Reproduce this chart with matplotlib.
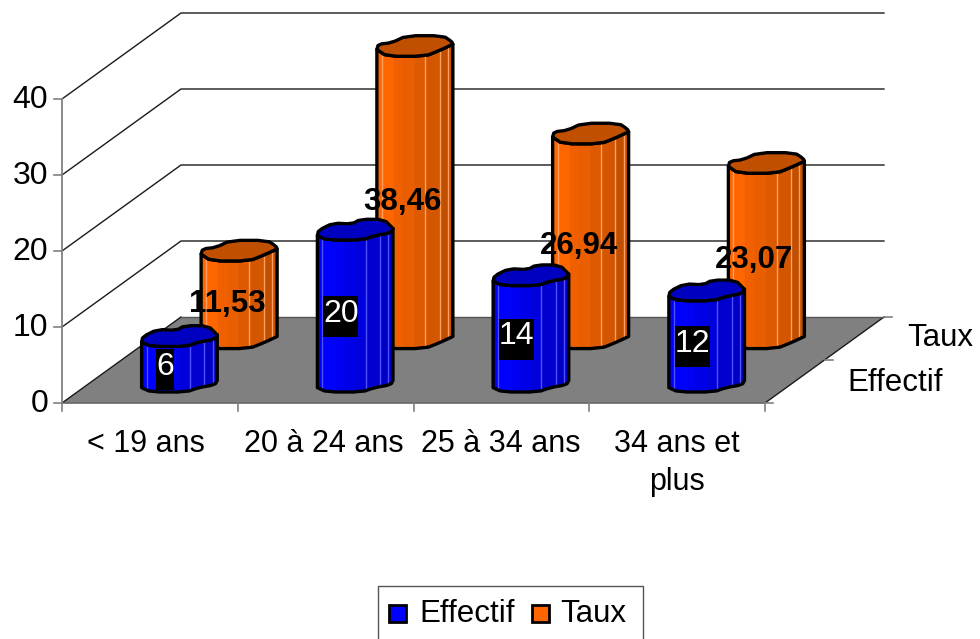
import matplotlib
matplotlib.use("Agg")
import matplotlib.pyplot as plt
from matplotlib.patches import Polygon, Rectangle

plt.rcParams['font.family'] = ['Liberation Sans', 'DejaVu Sans']

categories = ["< 19 ans", "20 à 24 ans", "25 à 34 ans", "34 ans et\nplus"]
effectif = [6, 20, 14, 12]
taux = [11.53, 38.46, 26.94, 23.07]
effectif_labels = ["6", "20", "14", "12"]
taux_labels = ["11,53", "38,46", "26,94", "23,07"]
y_ticks = [0, 10, 20, 30, 40]

# oblique projection of the 3D box, in pixels
X0, Y0 = 62, 403
CAT_W = 175.75
PX_PER_UNIT = 7.6
DX, DY = 119, -86
HALF_W, HALF_H = 38, 10.5


def project(cat, depth, value):
    """cat in category units, depth 0..1 front to back, value on the y scale"""
    return (X0 + cat * CAT_W + depth * DX,
            Y0 + depth * DY - value * PX_PER_UNIT)


# rough outline of the cylinder caps, back edge then front edge
blue_back = [(-1, .59), (-.97, .07), (-.58, -.62), (-.09, -.52), (.13, -.97), (.75, -.97), (.99, -.1)]
blue_front = [(.99, -.1), (.93, .31), (.49, .59), (.18, 1), (-.75, 1), (-1, .59)]
orange_back = [(-1, .3), (-.96, -.19), (-.61, -.33), (-.22, -1), (.74, -1), (.97, -.44), (1, -.19)]
orange_front = [(1, -.19), (.65, .4), (.26, .96), (-.74, .96), (-1, .3)]

blue_strips = ['#0000ff', '#0000f4', '#0000e8', '#0000dc', '#0000d0', '#0000c4']
orange_strips = ['#ff6600', '#f06000', '#e85e00', '#de5a00', '#d55600', '#c05000']
strip_edges = [-1, -.55, -.3, 0, .27, .65, 1]
pale_lines = [-.87, .27, .65, .87]


def soften(points):
    """one pass of corner cutting on an open run of points"""
    out = [points[0]]
    for (x0, y0), (x1, y1) in zip(points[:-1], points[1:]):
        out.append((.75 * x0 + .25 * x1, .75 * y0 + .25 * y1))
        out.append((.25 * x0 + .75 * x1, .25 * y0 + .75 * y1))
    out.append(points[-1])
    return out


def draw_cylinder(ax, cx, base_y, top_y, back, front, strips, top_color, pale, z):
    edge = soften(front)
    top_front = [(cx + a * HALF_W, top_y + b * HALF_H) for a, b in edge]
    bottom = [(cx + a * HALF_W, base_y + b * HALF_H) for a, b in reversed(edge)]
    body = Polygon(top_front + bottom, closed=True, fc='none', ec='none', zorder=z)
    ax.add_patch(body)
    low = base_y + HALF_H + 2
    up = top_y - HALF_H - 2
    for i, c in enumerate(strips):
        x0 = cx + strip_edges[i] * HALF_W
        x1 = cx + strip_edges[i + 1] * HALF_W
        r = Rectangle((x0, up), x1 - x0, low - up, fc=c, ec=c, lw=0.3, zorder=z)
        ax.add_patch(r)
        r.set_clip_path(body)
    for p in pale_lines:
        ln, = ax.plot([cx + p * HALF_W] * 2, [up, low], color=pale, lw=1, zorder=z)
        ln.set_clip_path(body)
    ax.add_patch(Polygon(top_front + bottom, closed=True, fc='none', ec='black',
                         lw=2.4, joinstyle='round', zorder=z + .1))
    outline = soften(back) + edge[1:-1]
    cap = [(cx + a * HALF_W, top_y + b * HALF_H) for a, b in outline]
    ax.add_patch(Polygon(cap, closed=True, fc=top_color, ec='black', lw=2.4,
                         joinstyle='round', zorder=z + .2))


fig = plt.figure(figsize=(9.8, 6.39), dpi=100)
ax = fig.add_axes([0, 0, 1, 1])
ax.set_xlim(0, 980)
ax.set_ylim(639, 0)
ax.axis('off')

# walls: gridlines run along the side wall then the back wall
for v in y_ticks[1:]:
    x1, y1 = project(0, 0, v)
    x2, y2 = project(0, 1, v)
    x3, y3 = project(4, 1, v)
    ax.plot([x1, x2, x3], [y1, y2, y3], color='#1a1a1a', lw=1, zorder=1)

# floor
floor = [project(0, 0, 0), project(4, 0, 0), project(4, 1, 0), project(0, 1, 0)]
ax.add_patch(Polygon(floor, closed=True, fc='#808080', ec='none', zorder=2))
ax.plot([floor[0][0], floor[3][0]], [floor[0][1], floor[3][1]], color='#1a1a1a', lw=1, zorder=2)
ax.plot([floor[1][0], floor[2][0]], [floor[1][1], floor[2][1]], color='#1a1a1a', lw=1, zorder=2)
ax.plot([floor[3][0], floor[2][0]], [floor[3][1], floor[2][1]], color='#555555', lw=1, zorder=2)
ax.plot([floor[0][0], floor[1][0]], [floor[0][1], floor[1][1]], color='#666666', lw=1.2, zorder=3)

# value axis
xa, ya = project(0, 0, y_ticks[-1])
ax.plot([xa, xa], [ya, Y0], color='#808080', lw=1.3, zorder=3)
for v in y_ticks:
    x, y = project(0, 0, v)
    ax.plot([x - 8, x], [y, y], color='#808080', lw=1.2, zorder=3)
    ax.text(48, y + .5, str(v), ha='right', va='center', fontsize=23, color='black')

# category axis
for i in range(len(categories) + 1):
    x, y = project(i, 0, 0)
    ax.plot([x, x], [y, y + 8], color='#808080', lw=1.2, zorder=3)
label_x = [146, 324, 501, 677]
for name, x in zip(categories, label_x):
    ax.text(x, 429, name, ha='center', va='top', fontsize=22, linespacing=1.35, color='black')

# depth axis
for d in (0, .5, 1):
    x, y = project(4, d, 0)
    ax.plot([x, x + 8], [y, y], color='#808080', lw=1.2, zorder=3)
ax.text(907, 338.5, "Taux", ha='left', va='center', fontsize=22.5, color='black')
ax.text(847, 383, "Effectif", ha='left', va='center', fontsize=22.5, color='black')

# cylinders, back row first, each one above the one before
for i, v in enumerate(taux):
    cx, base = project(i + .5, .75, 0)
    _, top = project(i + .5, .75, v)
    draw_cylinder(ax, cx, base, top, orange_back, orange_front, orange_strips, '#c05000', '#ffa060', 4)
for i, v in enumerate(effectif):
    cx, base = project(i + .5, .25, 0)
    _, top = project(i + .5, .25, v)
    draw_cylinder(ax, cx, base, top, blue_back, blue_front, blue_strips, '#0000c0', '#5050ff', 5)

# value labels
for i, v in enumerate(taux):
    cx, base = project(i + .5, .75, 0)
    _, top = project(i + .5, .75, v)
    ax.text(cx - 12, (base + top) / 2 + 9.5, taux_labels[i], ha='center', va='center',
            fontsize=22.5, fontweight='bold', color='black', zorder=7)
for i, v in enumerate(effectif):
    cx, base = project(i + .5, .25, 0)
    _, top = project(i + .5, .25, v)
    lx, ly = cx - 14.5, (base + top) / 2 + 11
    w = 17.5 * len(effectif_labels[i])
    ax.add_patch(Rectangle((lx - w / 2, ly - 20.5), w, 41, fc='black', ec='none', zorder=6))
    ax.text(lx, ly - 3, effectif_labels[i], ha='center', va='center', fontsize=23,
            color='white', zorder=7)

# legend box runs off the bottom of the figure
ax.add_patch(Rectangle((378, 586), 265, 80, fc='white', ec='#555555', lw=1, zorder=8))
ax.add_patch(Rectangle((389, 605), 17, 17, fc='#0000ff', ec='black', lw=2, zorder=9))
ax.add_patch(Rectangle((532, 605), 17, 17, fc='#ff6600', ec='black', lw=2, zorder=9))
ax.text(419, 613.5, "Effectif", ha='left', va='center', fontsize=22.5, color='black', zorder=9)
ax.text(560, 613.5, "Taux", ha='left', va='center', fontsize=22.5, color='black', zorder=9)

fig.savefig("out.png", dpi=100)
